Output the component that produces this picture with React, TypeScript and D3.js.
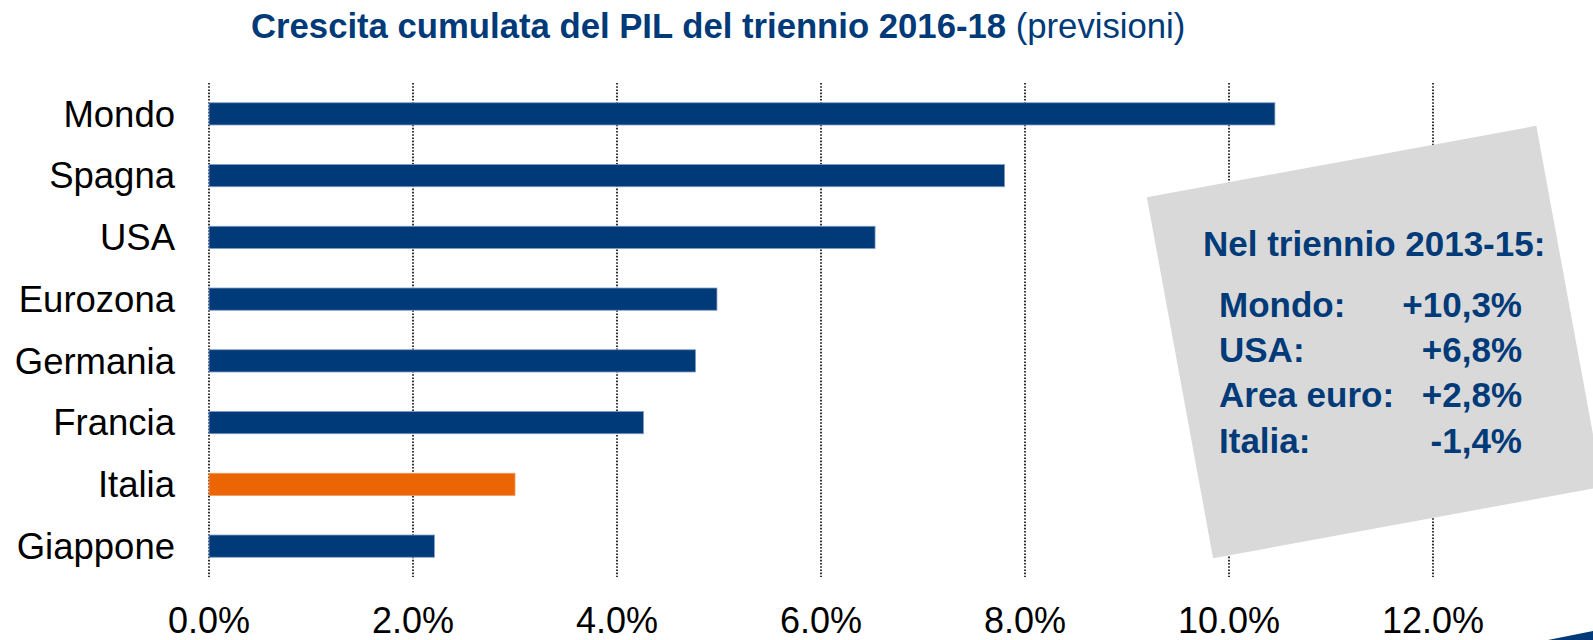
import React from "react";
import * as d3 from "d3";

const categories = ["Mondo", "Spagna", "USA", "Eurozona", "Germania", "Francia", "Italia", "Giappone"];
const values = [10.45, 7.8, 6.53, 4.98, 4.77, 4.26, 3.0, 2.21];
const highlight = "Italia";
const xTicks = [0, 2, 4, 6, 8, 10, 12];
const boxTitle = "Nel triennio 2013-15:";
const boxLabels = ["Mondo:", "USA:", "Area euro:", "Italia:"];
const boxValues = ["+10,3%", "+6,8%", "+2,8%", "-1,4%"];

const NAVY = "#003A78";
const ORANGE = "#EB6504";
const FONT = "'Liberation Sans', Arial, Helvetica, sans-serif";

export default function App() {
  const W = 1593, H = 640;
  const x = d3.scaleLinear().domain([0, 12]).range([209, 1433]);
  const y = d3.scaleBand<string>().domain(categories).range([83, 577]).paddingInner(0.64).paddingOuter(0.32);
  const bh = y.bandwidth();

  return (
    <svg width={W} height={H} style={{ position: "absolute", left: 0, top: 0, background: "#fff" }} fontFamily={FONT}>
      <text x={251} y={38} fontSize={34.7} fill={NAVY}>
        <tspan fontWeight="bold">Crescita cumulata del PIL del triennio 2016-18</tspan>
        <tspan> (previsioni)</tspan>
      </text>

      {xTicks.map((t) => (
        <line key={"g" + t} x1={x(t)} x2={x(t)} y1={83} y2={577} stroke="#000" strokeWidth={1.6} strokeDasharray="1.6,1.6" />
      ))}

      {categories.map((c, i) => (
        <rect key={c} x={x(0)} y={y(c)!} width={x(values[i]) - x(0)} height={bh}
          fill={c === highlight ? ORANGE : NAVY} stroke={c === highlight ? "#f39a5a" : "#7f9cc4"} strokeWidth={0.8} />
      ))}

      {categories.map((c) => (
        <text key={"l" + c} x={175} y={y(c)! + bh / 2} dy="0.35em" textAnchor="end" fontSize={36.5} fill="#000">{c}</text>
      ))}

      {xTicks.map((t) => (
        <text key={"t" + t} x={x(t)} y={633} textAnchor="middle" fontSize={36} fill="#000">{t.toFixed(1)}%</text>
      ))}

      <rect x={1374.7 - 198} y={342 - 183.5} width={396} height={367} fill="#D9D9D9"
        transform="rotate(-10.4 1374.7 342)" />

      <text x={1203} y={256} fontSize={35} fontWeight="bold" fill={NAVY}>{boxTitle}</text>
      {boxLabels.map((l, i) => (
        <g key={l}>
          <text x={1219} y={317 + i * 45.2} fontSize={35} fontWeight="bold" fill={NAVY}>{l}</text>
          <text x={1522} y={317 + i * 45.2} fontSize={35} fontWeight="bold" fill={NAVY} textAnchor="end">{boxValues[i]}</text>
        </g>
      ))}

      <polygon points="1548,640 1593,631 1593,640" fill={NAVY} />
    </svg>
  );
}
